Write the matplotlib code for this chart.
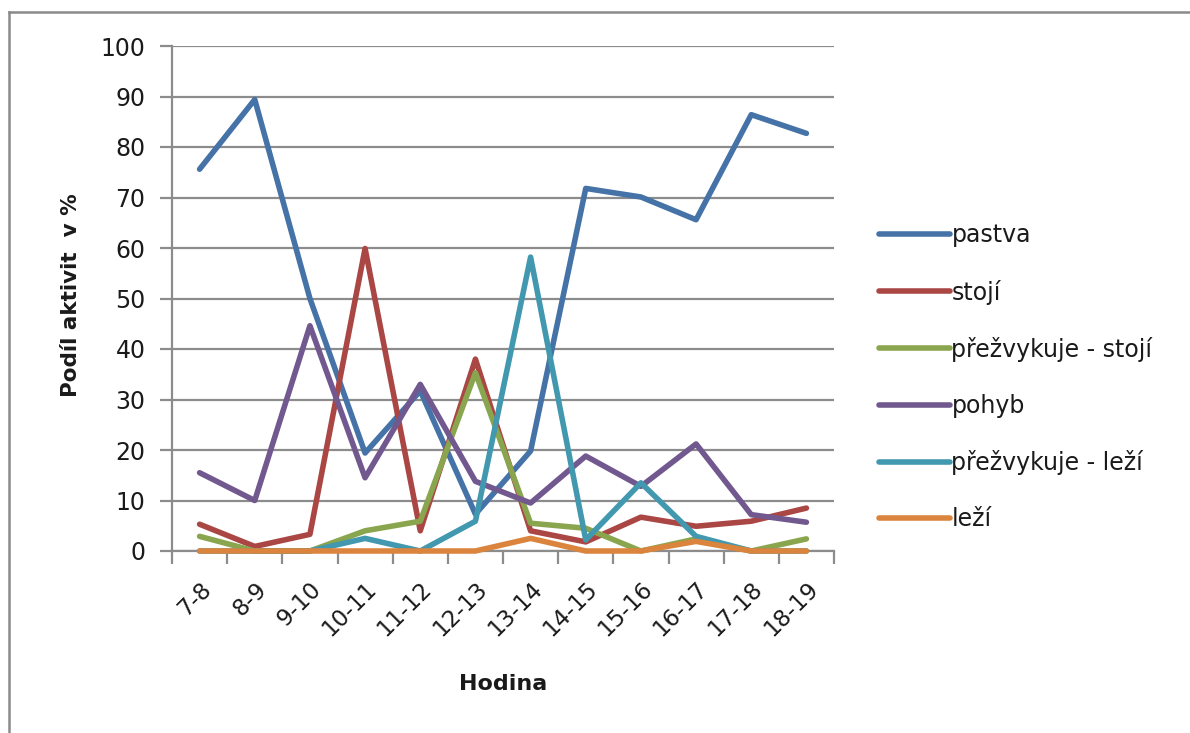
import matplotlib
matplotlib.use("Agg")
import matplotlib.pyplot as plt
from matplotlib.lines import Line2D
import numpy as np

hours = ["7-8", "8-9", "9-10", "10-11", "11-12", "12-13",
         "13-14", "14-15", "15-16", "16-17", "17-18", "18-19"]

pastva = [75.6, 89.4, 50.0, 19.4, 31.7, 7.3, 19.8, 71.8, 70.1, 65.6, 86.4, 82.7]
stoji = [5.3, 0.9, 3.3, 59.9, 4.0, 38.0, 4.0, 1.8, 6.7, 4.9, 5.9, 8.5]
prezvykuje_stoji = [2.9, 0.0, 0.0, 4.0, 5.9, 35.3, 5.5, 4.5, 0.0, 2.4, 0.0, 2.4]
pohyb = [15.5, 10.0, 44.6, 14.5, 33.0, 13.8, 9.5, 18.8, 12.8, 21.2, 7.2, 5.7]
prezvykuje_lezi = [0.0, 0.0, 0.0, 2.5, 0.0, 5.9, 58.2, 2.2, 13.5, 2.9, 0.0, 0.0]
lezi = [0.0, 0.0, 0.0, 0.0, 0.0, 0.0, 2.5, 0.0, 0.0, 1.9, 0.0, 0.0]

series = [
    ("pastva", pastva, "#4572A7"),
    ("stojí", stoji, "#AA4643"),
    ("přežvykuje - stojí", prezvykuje_stoji, "#89A54E"),
    ("pohyb", pohyb, "#71588F"),
    ("přežvykuje - leží", prezvykuje_lezi, "#4198AF"),
    ("leží", lezi, "#DB843D"),
]

W, H = 1190, 733
fig = plt.figure(figsize=(W / 100, H / 100), dpi=100)
ax = fig.add_axes([172 / W, 1 - 551 / H, (834 - 172) / W, (551 - 46) / H])

x = np.arange(len(hours))
for name, vals, col in series:
    ax.plot(x, vals, color=col, lw=4.0, label=name, solid_capstyle="round",
            solid_joinstyle="round", clip_on=False, zorder=3)

grid_col = "#8C8C8C"
ax.set_ylim(0, 100)
ax.set_xlim(-0.5, len(hours) - 0.5)
ax.set_yticks(np.arange(0, 101, 10))
ax.yaxis.grid(True, color=grid_col, lw=1.6)
ax.set_axisbelow(True)

# category boundaries carry tick marks, centres carry the labels
ax.set_xticks(np.arange(-0.5, len(hours), 1.0))
ax.set_xticklabels([])
ax.set_xticks(x, minor=True)
ax.set_xticklabels(hours, minor=True, rotation=45, ha="right",
                   rotation_mode="anchor", fontsize=16.5, color="#1a1a1a")
ax.tick_params(axis="x", which="minor", length=0, pad=19)
ax.tick_params(axis="x", which="major", length=9, width=1.6, color=grid_col)
ax.tick_params(axis="y", length=9, width=1.6, color=grid_col, pad=10,
               labelsize=17, labelcolor="#1a1a1a")

for side in ("top", "right"):
    ax.spines[side].set_visible(False)
for side in ("left", "bottom"):
    ax.spines[side].set_color(grid_col)
    ax.spines[side].set_linewidth(1.6)

fig.text(71 / W, 1 - 295 / H, "Podíl aktivit  v %", rotation=90, ha="center",
         va="center", fontsize=15.5, fontweight="bold", color="#1a1a1a")
fig.text(503 / W, 1 - 684 / H, "Hodina", ha="center", va="center",
         fontsize=16, fontweight="bold", color="#1a1a1a")

leg = fig.legend(loc="upper left", bbox_to_anchor=(870 / W, 1 - 214 / H),
                 frameon=False, fontsize=17, handlelength=3.0,
                 handletextpad=0.05, labelspacing=1.36, borderaxespad=0)
for h in leg.get_lines():
    h.set_linewidth(4.0)
for t in leg.get_texts():
    t.set_color("#1a1a1a")

# outer chart frame (top and left edges visible)
fig.add_artist(Line2D([9 / W, 9 / W], [0, 1 - 12 / H], transform=fig.transFigure,
                      color="#8A8A8A", lw=1.8))
fig.add_artist(Line2D([9 / W, 1], [1 - 12 / H, 1 - 12 / H], transform=fig.transFigure,
                      color="#8A8A8A", lw=1.8))

fig.savefig("out.png", dpi=100)
